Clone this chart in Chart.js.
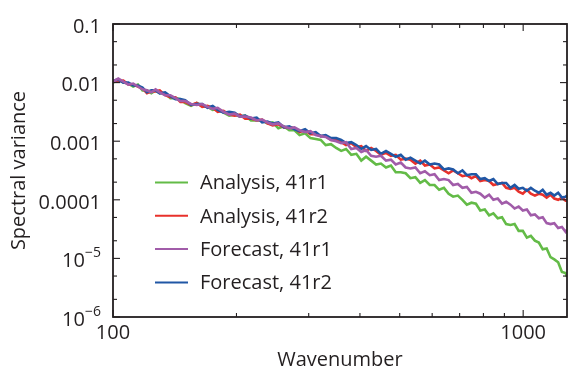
<!DOCTYPE html>
<html>
<head>
<meta charset="utf-8">
<script src="https://cdn.jsdelivr.net/npm/chart.js@4.4.1/dist/chart.umd.min.js"></script>
<style>
  html, body { margin: 0; padding: 0; background: #fff; }
  #wrap { width: 569px; height: 374px; }
</style>
</head>
<body>
<div id="wrap"><canvas id="spectra"></canvas></div>
<script>
// wavenumber samples
const wavenumbers = [
  100, 103, 106, 109, 112, 115, 118, 121, 124, 127, 130,
  134, 138, 142, 146, 150, 155, 160, 165, 170, 175, 180,
  186, 192, 198, 204, 210, 217, 224, 231, 238, 245, 253,
  261, 269, 277, 285, 294, 303, 312, 321, 330, 340, 350,
  360, 370, 381, 392, 403, 414, 426, 438, 450, 463, 476,
  489, 503, 517, 531, 546, 561, 576, 592, 608, 624, 641,
  658, 675, 693, 711, 729, 748, 767, 786, 806, 826, 846,
  867, 888, 909, 931, 953, 975, 998, 1021, 1044, 1068, 1092,
  1116, 1141, 1166, 1191, 1217, 1243, 1269, 1279
];

const analysis41r1 = [
  .0100, .0112, .0100, .00963, .00858, .00927, .00737, .00737, .00657, .00737,
  .00657, .00657, .00543, .00543, .00522, .00448, .00400, .00448, .00400, .00385,
  .00343, .00356, .00306, .00273, .00284, .00263, .00273, .00226, .00226, .00226,
  .00201, .00209, .00166, .00179, .00154, .00154, .00127, .00137, .00113, .00109,
  .00105, .000858, .000892, .000766,
  .000683, .000737, .000586, .000609, .000466, .000543, .000466, .000400, .000415, .000356,
  .000385, .000295, .000295, .000284, .000234, .000243, .000194, .000217, .000179, .000179,
  .000148, .000160, .000127, .000113, .000118, .000100, 8.26e-5, 8.92e-5, 8.58e-5, 6.57e-5,
  6.83e-5, 5.43e-5, 5.86e-5, 4.84e-5, 5.03e-5, 3.85e-5, 3.71e-5, 3.85e-5, 2.95e-5, 2.95e-5,
  2.26e-5, 2.43e-5, 2.01e-5, 1.86e-5, 1.43e-5, 1.48e-5, 1.05e-5, 9.63e-6, 8.58e-6, 5.86e-6,
  5.64e-6, 4.84e-6
];

const analysis41r2 = [
  .0104, .0106, .0108, .00927, .00927, .00858, .00795, .00657, .00709, .00709,
  .00737, .00609, .00564, .00564, .00466, .00466, .00415, .00448, .00385, .00400,
  .00371, .00318, .00330, .00284, .00273, .00284, .00243, .00243, .00226, .00234,
  .00201, .00186, .00194, .00172, .00172, .00166, .00143, .00154, .00132, .00132,
  .00122, .00122, .00105, .00105,
  .000963, .000858, .000927, .000795, .000826, .000683, .000766, .000683, .000586, .000632,
  .000564, .000586, .000484, .000503, .000484, .000415, .000466, .000385, .000400, .000343,
  .000356, .000318, .000284, .000318, .000284, .000253, .000263, .000234, .000253, .000209,
  .000217, .000209, .000179, .000186, .000194, .000160, .000154, .000160, .000137, .000127,
  .000148, .000127, .000118, .000127, .000122, .000109, .000122, .000105, .000100, .000109,
  9.63e-5, 9.63e-5
];

const forecast41r1 = [
  .0104, .0117, .0104, .00927, .00963, .00858, .00766, .00737, .00683, .00766,
  .00683, .00609, .00609, .00543, .00484, .00484, .00431, .00415, .00431, .00385,
  .00356, .00371, .00318, .00284, .00295, .00263, .00263, .00253, .00226, .00234,
  .00209, .00194, .00201, .00179, .00166, .00172, .00154, .00143, .00148, .00127,
  .00122, .00118, .00105, .00100,
  .000927, .000963, .000737, .000766, .000657, .000709, .000564, .000543, .000564, .000466,
  .000484, .000400, .000431, .000356, .000343, .000356, .000284, .000306, .000263, .000273,
  .000217, .000226, .000217, .000179, .000186, .000160, .000166, .000132, .000137, .000127,
  .000109, .000122, .000100, .000105, 8.58e-5, 9.27e-5, 8.26e-5, 7.09e-5, 7.66e-5, 6.57e-5,
  6.83e-5, 5.43e-5, 5.64e-5, 4.84e-5, 5.03e-5, 4.00e-5, 3.85e-5, 4.00e-5, 3.30e-5, 3.43e-5,
  2.84e-5, 3.06e-5
];

const forecast41r2 = [
  .0108, .0112, .0100, .0100, .00892, .00892, .00826, .00683, .00737, .00737,
  .00657, .00683, .00586, .00522, .00522, .00503, .00415, .00431, .00431, .00371,
  .00400, .00343, .00306, .00318, .00306, .00263, .00273, .00243, .00253, .00209,
  .00217, .00201, .00209, .00172, .00179, .00160, .00148, .00160, .00137, .00143,
  .00122, .00127, .00113, .00113,
  .00105, .000927, .000963, .000858, .000737, .000826, .000709, .000737, .000609, .000683,
  .000609, .000543, .000586, .000484, .000522, .000466, .000415, .000466, .000400, .000415,
  .000400, .000330, .000343, .000330, .000284, .000318, .000263, .000273, .000273, .000226,
  .000234, .000209, .000226, .000186, .000194, .000194, .000160, .000179, .000154, .000160,
  .000143, .000160, .000143, .000132, .000148, .000122, .000132, .000118, .000132, .000109,
  .000113, .000118
];

const seriesLabels = ['Analysis, 41r1', 'Analysis, 41r2', 'Forecast, 41r1', 'Forecast, 41r2'];
const seriesColors = ['#63bb47', '#e8312b', '#a15ca9', '#2057a5'];

const xTicks = [100, 1000];
const xTickLabels = ['100', '1000'];
const xMinorTicks = [200, 300, 400, 500, 600, 700, 800, 900];
const yTicks = [1e-6, 1e-5, 1e-4, 1e-3, 1e-2, 1e-1];
// '^' marks a superscript exponent
const yTickLabels = ['10^\u22126', '10^\u22125', '0.0001', '0.001', '0.01', '0.1'];
const yMinorTicks = [2e-6, 5e-6, 2e-5, 5e-5, 2e-4, 5e-4, 2e-3, 5e-3, 2e-2, 5e-2];

const ink = '#231f20';
const FONT = "'Open Sans', 'Noto Sans', sans-serif";
const FS = 20;

function toPoints(values) {
  return values.map((v, i) => ({ x: wavenumbers[i], y: v }));
}
function yLabelFor(v) {
  return yTickLabels[yTicks.findIndex(t => Math.abs(t - v) / t < 1e-6)];
}

// box + inward tick marks on all four sides, and the power-of-ten labels
const frame = {
  id: 'frame',
  afterDraw(chart) {
    const { ctx, chartArea: a, scales: { x, y } } = chart;
    ctx.save();
    ctx.strokeStyle = ink;
    ctx.lineWidth = 1.8;
    ctx.strokeRect(a.left, a.top, a.right - a.left, a.bottom - a.top);
    ctx.lineWidth = 1.1;
    const seg = (x1, y1, x2, y2) => {
      ctx.beginPath(); ctx.moveTo(x1, y1); ctx.lineTo(x2, y2); ctx.stroke();
    };
    xTicks.concat(xMinorTicks).forEach(v => {
      const p = x.getPixelForValue(v);
      const len = xTicks.includes(v) ? 7 : 4;
      seg(p, a.bottom, p, a.bottom - len);
      seg(p, a.top, p, a.top + len);
    });
    yTicks.concat(yMinorTicks).forEach(v => {
      const p = y.getPixelForValue(v);
      const len = yTicks.includes(v) ? 7 : 4;
      seg(a.left, p, a.left + len, p);
      seg(a.right, p, a.right - len, p);
    });

    ctx.fillStyle = ink;
    ctx.textBaseline = 'middle';
    ctx.textAlign = 'left';
    yTicks.forEach((v, i) => {
      const lab = yTickLabels[i];
      if (!lab.includes('^')) return;
      const [base, exp] = lab.split('^');
      const p = y.getPixelForValue(v) + 3;
      ctx.font = FS + 'px ' + FONT;
      const wb = ctx.measureText(base).width;
      ctx.font = '14px ' + FONT;
      const we = ctx.measureText(exp).width;
      const right = a.left - 12;
      ctx.font = FS + 'px ' + FONT;
      ctx.fillText(base, right - we - wb, p);
      ctx.font = '14px ' + FONT;
      ctx.fillText(exp, right - we, p - 8);
    });
    ctx.restore();
  }
};

// legend sitting inside the plot
const insideLegend = {
  id: 'insideLegend',
  afterDraw(chart) {
    const ctx = chart.ctx;
    ctx.save();
    ctx.font = FS + 'px ' + FONT;
    ctx.textBaseline = 'middle';
    ctx.fillStyle = ink;
    chart.data.datasets.forEach((ds, i) => {
      const yy = 182.5 + i * 33.3;
      ctx.strokeStyle = ds.borderColor;
      ctx.lineWidth = 2;
      ctx.beginPath(); ctx.moveTo(155, yy); ctx.lineTo(188, yy); ctx.stroke();
      ctx.fillText(ds.label, 200, yy + 1);
    });
    ctx.restore();
  }
};

const drawOrder = [3, 2, 0, 1];

new Chart(document.getElementById('spectra'), {
  type: 'line',
  data: {
    datasets: [analysis41r1, analysis41r2, forecast41r1, forecast41r2].map((vals, i) => ({
      label: seriesLabels[i],
      data: toPoints(vals),
      borderColor: seriesColors[i],
      borderWidth: 2.6,
      pointRadius: 0,
      tension: 0,
      order: drawOrder[i]
    }))
  },
  options: {
    responsive: true,
    maintainAspectRatio: false,
    animation: false,
    layout: { padding: { left: 0, right: 2, top: 15, bottom: 0 } },
    plugins: { legend: { display: false }, tooltip: { enabled: false } },
    scales: {
      x: {
        type: 'logarithmic',
        min: 100,
        max: 1279,
        grid: { display: false, drawTicks: false },
        border: { display: false },
        afterBuildTicks: s => { s.ticks = xTicks.map(v => ({ value: v })); },
        afterFit: s => { s.height = 57; },
        ticks: {
          autoSkip: false,
          maxRotation: 0,
          padding: 4,
          color: ink,
          font: { family: FONT, size: FS },
          callback: v => xTickLabels[xTicks.indexOf(v)]
        },
        title: {
          display: true,
          text: 'Wavenumber',
          color: ink,
          font: { family: FONT, size: FS },
          padding: { top: 0, bottom: 2 }
        }
      },
      y: {
        type: 'logarithmic',
        min: 1e-6,
        max: 0.1,
        grid: { display: false, drawTicks: false },
        border: { display: false },
        afterBuildTicks: s => { s.ticks = yTicks.map(v => ({ value: v })); },
        afterFit: s => { s.width = 113; },
        ticks: {
          autoSkip: false,
          padding: 12,
          labelOffset: 3,
          color: ink,
          font: { family: FONT, size: FS },
          callback: v => { const lab = yLabelFor(v); return lab.includes('^') ? '' : lab; }
        },
        title: {
          display: true,
          text: 'Spectral variance',
          color: ink,
          font: { family: FONT, size: FS },
          padding: { top: 7, bottom: 0 }
        }
      }
    }
  },
  plugins: [frame, insideLegend]
});
</script>
</body>
</html>
